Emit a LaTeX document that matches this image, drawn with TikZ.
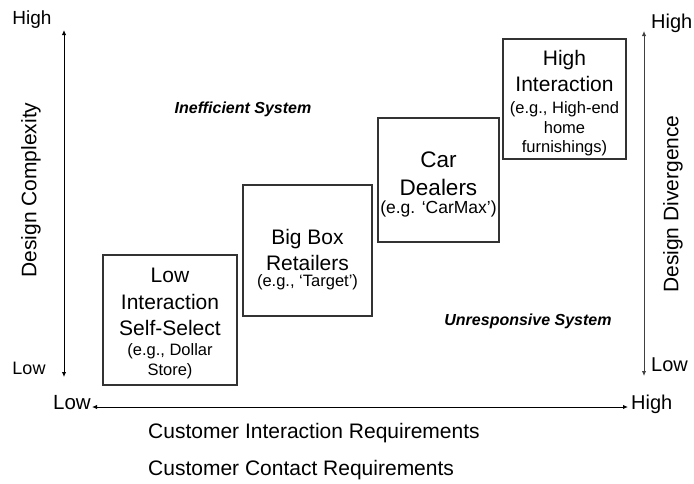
\documentclass[tikz,border=0pt]{standalone}
\usepackage{fontspec}
\setmainfont{Liberation Sans}
\usetikzlibrary{arrows.meta}
\newcommand{\fsz}[1]{\fontsize{#1}{#1}\selectfont}
\begin{document}
\begin{tikzpicture}[x=1pt,y=-1pt,
  axisline/.style={line width=1pt, {Latex[length=5pt,width=4.5pt]}-{Latex[length=5pt,width=4.5pt]}},
  stagebox/.style={draw=black!80, line width=1.1pt, inner sep=0pt},
  boxtitle/.style={align=center, inner sep=0pt, font=\fontsize{21}{26.5}\selectfont},
  boxexample/.style={align=center, inner sep=0pt, font=\fontsize{16.5}{19.5}\selectfont},
  axislabel/.style={inner sep=0pt},
  region/.style={inner sep=0pt, font=\fontsize{16}{16}\selectfont\bfseries\itshape}]
\useasboundingbox (0,0) rectangle (694,483);

% axes
\coordinate (ltop) at (64,30);
\coordinate (lbot) at (64,377);
\coordinate (rtop) at (644,31);
\coordinate (rbot) at (644,376);
\coordinate (xleft) at (92,407);
\coordinate (xright) at (628,407);
\draw[axisline] (ltop) -- (lbot);
\draw[axisline, draw=black!75] (rtop) -- (rbot);
\draw[axisline] (xleft) -- (xright);

% axis labels
\node[axislabel, font=\fsz{19}] (lhigh) at (32,20) {High};
\node[axislabel, font=\fsz{18}] (llow) at (29,368) {Low};
\node[axislabel, font=\fsz{21}, rotate=90] (dcomp) at (31,190) {Design Complexity};
\node[axislabel, font=\fsz{20}, anchor=west] (rhigh) at (651,23) {High};
\node[axislabel, font=\fsz{20}, anchor=west] (rlow) at (651,365) {Low};
\node[axislabel, font=\fsz{21}, rotate=90] (ddiv) at (673,204) {Design Divergence};
\node[axislabel, font=\fsz{20.5}, anchor=east] (xlow) at (91,403) {Low};
\node[axislabel, font=\fsz{20}, anchor=west] (xhigh) at (631,404) {High};
\node[axislabel, font=\fsz{21}, anchor=west] (cir) at (148,433) {Customer Interaction Requirements};
\node[axislabel, font=\fsz{21}, anchor=west] (ccr) at (148,470) {Customer Contact Requirements};

% regions
\node[region] (ineff) at (243,109) {Inefficient System};
\node[region] (unresp) at (528,321) {Unresponsive System};

% stages
\node[stagebox, minimum width=134pt, minimum height=130pt] (b1) at (170,320) {};
\node[boxtitle] (t1) at (170,302) {Low\\Interaction\\Self-Select};
\node[boxexample] (e1) at (170,361) {(e.g., Dollar\\Store)};

\node[stagebox, minimum width=129pt, minimum height=131pt] (b2) at (307.5,250.5) {};
\node[boxtitle] (t2) at (307.5,250) {Big Box\\Retailers};
\node[boxexample] (e2) at (307.5,282.5) {(e.g., ‘Target’)};

\node[stagebox, minimum width=121pt, minimum height=124pt] (b3) at (438.5,180) {};
\node[boxtitle, font=\fontsize{22.5}{28}\selectfont] (t3) at (438.5,174) {Car\\Dealers};
\node[boxexample, font=\fontsize{17.5}{19.5}\selectfont] (e3) at (438.5,209) {(e.g. ‘CarMax’)};

\node[stagebox, minimum width=123pt, minimum height=120pt] (b4) at (564.5,99) {};
\node[boxtitle] (t4) at (564.5,71) {High\\Interaction};
\node[boxexample] (e4) at (564.5,129) {(e.g., High-end\\home\\furnishings)};
\end{tikzpicture}
\end{document}
